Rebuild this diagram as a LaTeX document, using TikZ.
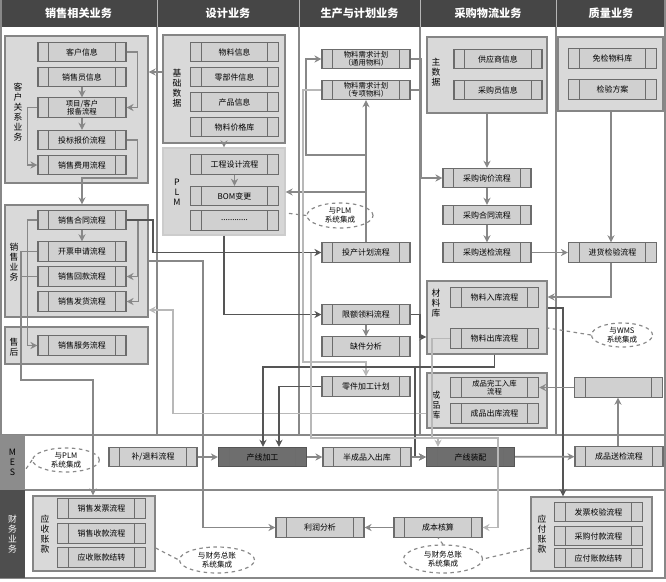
\documentclass[tikz,border=0pt]{standalone}
\usepackage{fontspec}
\setmainfont{Noto Sans CJK SC}
\usepackage{xcolor}
\usepackage{tikz}
\usetikzlibrary{positioning, fit, backgrounds, arrows.meta, calc, shapes.geometric}
\definecolor{hdr}{HTML}{464646}
\definecolor{grpfill}{HTML}{D9D9D9}
\definecolor{grpline}{HTML}{858585}
\definecolor{boxfill}{HTML}{D0D0D0}
\definecolor{boxline}{HTML}{6C6C6C}
\definecolor{darkbox}{HTML}{6E6E6E}
\definecolor{mescol}{HTML}{8C8C8C}
\definecolor{fincol}{HTML}{4E4E4E}
\definecolor{lnmid}{HTML}{888888}
\definecolor{lndark}{HTML}{555555}
\definecolor{lnlight}{HTML}{B8B8B8}

\begin{document}
\begin{tikzpicture}[x=0.03cm, y=-0.03cm,
  proc/.style={draw=boxline, line width=0.9pt, fill=boxfill, minimum width=2.64cm, minimum height=0.58cm, inner sep=0pt, align=center, font=\fontsize{6.8}{7.2}\selectfont,
    path picture={\draw[boxline, line width=0.8pt]
      ([xshift=0.32cm]path picture bounding box.north west) -- ([xshift=0.32cm]path picture bounding box.south west)
      ([xshift=-0.32cm]path picture bounding box.north east) -- ([xshift=-0.32cm]path picture bounding box.south east);}},
  darkproc/.style={proc, fill=darkbox, draw=lndark},
  grp/.style={draw=grpline, line width=1.1pt, fill=grpfill, inner sep=0pt},
  vlab/.style={align=center, font=\fontsize{7.5}{8.5}\selectfont, inner sep=0pt},
  hdrtext/.style={text=white, font=\fontsize{9.5}{10}\selectfont\bfseries},
  callout/.style={ellipse, draw=lnmid, dashed, line width=1pt, fill=white, align=center, inner sep=0pt, font=\fontsize{6.5}{7.4}\selectfont},
  arr/.style={-{Stealth[length=6pt, width=6pt]}, line width=1.5pt, lnmid},
  darr/.style={arr, lndark},
  larr/.style={arr, lnlight},
  ln/.style={line width=1.5pt, lnmid},
  dashln/.style={dashed, line width=1pt, lnmid},
  divider/.style={line width=0.9pt, lnmid}
]
\useasboundingbox (0,0) rectangle (666,581);

% header and lanes
\fill[hdr] (0,0) rectangle (666,27);
\node[hdrtext] (hsale) at (78.5,13.5) {销售相关业务};
\node[hdrtext] (hdes) at (228,13.5) {设计业务};
\node[hdrtext] (hprod) at (359.5,13.5) {生产与计划业务};
\node[hdrtext] (hbuy) at (488,13.5) {采购物流业务};
\node[hdrtext] (hqa) at (611,13.5) {质量业务};
\foreach \cx in {157,299,420,556} {
  \draw[white!60!hdr, line width=0.6pt] (\cx,0) -- (\cx,27);
  \draw[divider] (\cx,27) -- (\cx,435);
}
\draw[divider] (1,0) -- (1,578) (665,0) -- (665,578);
\draw[divider] (0,435) -- (666,435) (0,490) -- (666,490) (0,578) -- (666,578);
\node[fill=mescol, fit={(0,435) (25,490)}, inner sep=0pt] (mescell) {};
\node[vlab] (meslab) at (12.5,462) {M\\E\\S};
\node[fill=fincol, fit={(0,490) (25,578)}, inner sep=0pt] (fincell) {};
\node[vlab, text=white] (finlab) at (12.5,534) {财\\务\\业\\务};

% groups
\node[grp, fit={(5,36) (148,183)}] (crm) {};
\node[grp, fit={(5,205) (148,317)}] (sale) {};
\node[grp, fit={(5,327) (148,364)}] (after) {};
\node[grp, fit={(163,35) (285,143)}] (base) {};
\node[grp, fit={(163,148) (285,235)}, fill=black!16, draw=black!20] (plm) {};
\node[grp, fit={(427,37) (547,113)}] (master) {};
\node[grp, fit={(558,37) (663,111)}] (qa) {};
\node[grp, fit={(427,281) (547,354)}] (cl) {};
\node[grp, fit={(427,373) (547,428)}] (cpk) {};
\node[grp, fit={(33,496) (155,571)}] (ar) {};
\node[grp, fit={(531,497) (652,571)}] (ap) {};

\node[vlab] (crmlab) at (18,112) {客\\户\\关\\系\\业\\务};
\node[vlab] (salelab) at (14,262) {销\\售\\业\\务};
\node[vlab] (afterlab) at (14,347) {售\\后};
\node[vlab] (baselab) at (177,88) {基\\础\\数\\据};
\node[vlab] (plmlab) at (177,192) {P\\L\\M};
\node[vlab] (masterlab) at (436,72) {主\\数\\据};
\node[vlab] (cllab) at (436,303) {材\\料\\库};
\node[vlab] (cpklab) at (436,405) {成\\品\\库};
\node[vlab] (arlab) at (45,534) {应\\收\\账\\款};
\node[vlab] (aplab) at (542,534) {应\\付\\账\\款};

% sales boxes
\node[proc] (kh) at (82,52) {客户信息};
\node[proc] (xsy) at (82,77) {销售员信息};
\node[proc, font=\fontsize{6.3}{6.8}\selectfont] (bb) at (82,107.5) {项目/客户\\报备流程};
\node[proc] (tb) at (82,140) {投标报价流程};
\node[proc] (fy) at (82,165) {销售费用流程};
\node[proc] (ht) at (82,220) {销售合同流程};
\node[proc] (kp) at (82,251.5) {开票申请流程};
\node[proc] (hk) at (82,276.5) {销售回款流程};
\node[proc] (fh) at (82,301.5) {销售发货流程};
\node[proc] (fw) at (82,345.5) {销售服务流程};

% design boxes
\node[proc] (wl) at (234.5,52) {物料信息};
\node[proc] (lbj) at (234.5,77) {零部件信息};
\node[proc] (cp) at (234.5,102) {产品信息};
\node[proc] (jg) at (234.5,127) {物料价格库};
\node[proc] (gc) at (234.5,164.5) {工程设计流程};
\node[proc] (bom) at (234.5,196) {BOM变更};
\node[proc] (etc) at (234.5,220.5) {............};

% production boxes
\node[proc, font=\fontsize{6.3}{6.8}\selectfont] (ty) at (366,59) {物料需求计划\\（通用物料）};
\node[proc, font=\fontsize{6.3}{6.8}\selectfont] (zx) at (366,90) {物料需求计划\\（专项物料）};
\node[proc] (tc) at (366,252.5) {投产计划流程};
\node[proc] (xe) at (366,314.5) {限额领料流程};
\node[proc] (qj) at (366,346.5) {缺件分析};
\node[proc] (lj) at (366,386.5) {零件加工计划};

% purchasing boxes
\node[proc] (gys) at (498,59) {供应商信息};
\node[proc] (cgy) at (498,90) {采购员信息};
\node[proc] (xj) at (487,178) {采购询价流程};
\node[proc] (cght) at (487,215) {采购合同流程};
\node[proc] (sj) at (487,252.5) {采购送检流程};
\node[proc] (rk) at (494.5,297.5) {物料入库流程};
\node[proc] (ck) at (494.5,338.5) {物料出库流程};
\node[proc, font=\fontsize{6.3}{6.8}\selectfont] (wg) at (494.5,387.5) {成品完工入库\\流程};
\node[proc] (cpck) at (494.5,413.5) {成品出库流程};

% quality boxes
\node[proc] (mj) at (612.5,58.5) {免检物料库};
\node[proc] (fa) at (612.5,89.5) {检验方案};
\node[proc] (jh) at (612.5,252.5) {进货检验流程};
\node[proc] (blank) at (618.5,387.5) {};

% MES row
\node[proc] (bt) at (153,457) {补/退料流程};
\node[darkproc] (jgx) at (262.5,457) {产线加工};
\node[proc] (bcp) at (367,457) {半成品入出库};
\node[darkproc] (zp) at (470.5,457) {产线装配};
\node[proc] (cpj) at (619,456.5) {成品送检流程};

% finance row
\node[proc] (fp) at (101.5,508.5) {销售发票流程};
\node[proc] (sk) at (101.5,533.5) {销售收款流程};
\node[proc] (ys) at (101.5,557.5) {应收账款结转};
\node[proc] (lr) at (320,527.5) {利润分析};
\node[proc] (cb) at (438,527.5) {成本核算};
\node[proc] (fpjy) at (598.5,512) {发票校验流程};
\node[proc] (fk) at (598.5,536) {采购付款流程};
\node[proc] (yf) at (598.5,558) {应付账款结转};

% callouts
\node[callout, minimum width=1.98cm, minimum height=0.75cm] (plmc) at (340,215.5) {与PLM\\系统集成};
\node[callout, minimum width=1.83cm, minimum height=0.72cm] (wms) at (622,335) {与WMS\\系统集成};
\node[callout, minimum width=2.0cm, minimum height=0.72cm] (plm2) at (66,460) {与PLM\\系统集成};
\node[callout, minimum width=2.25cm, minimum height=0.78cm] (gl1) at (217,560) {与财务总账\\系统集成};
\node[callout, minimum width=2.37cm, minimum height=0.84cm] (gl2) at (443,559) {与财务总账\\系统集成};

% sales flows
\draw[arr] (xsy) -- (bb);
\draw[arr] (bb) -- (tb);
\draw[arr] (kh.east) -- ++(11,0) |- (bb.east);
\draw[arr] (bb.west) -- ++(-10,0) |- (fy.west);
\draw[arr] (tb.east) -- ++(11,0) |- (82,178) -- (ht.north |- sale.north);
\draw[arr] (base.west |- 0,72) -- (crm.east |- 0,72);
\draw[arr] (ht) -- (kp);
\draw[arr] (ht.east) -- ++(12,0) |- (fh.east);
\draw[arr] (ht.east -| 138,0) |- (hk.east);
\draw[darr] (ht.east) -- (ht.east -| 153,0) |- (tc.west);
\draw[arr] (ht.west) -- ++(-10,0) |- (fw.west);
\draw[ln] (hk.west) -- (hk.west -| 21,0);
\draw[arr] (kp.west) -| (21,380) -| (ar.north -| 93,0);
\draw[arr] (sale.east) -| (lr.west -| 203,0) -- (lr.west);
\draw[larr] (cpk.west |- cpck.west) -| (173,310) -- (sale.east |- 0,310);

% design / planning flows
\draw[arr] (base) -- (plm);
\draw[arr] (gc) -- (bom);
\draw[arr] (tc) -- (zx);
\draw[arr] (tc.north |- 0,192) -- (plm.east |- 0,192);
\draw[arr] (tc.north |- 0,155) -| (ty.west -| 306,0) -- (ty.west);
\draw[arr] (ty.east) -| (xj.west -| 421,0) -- (xj.west);
\draw[ln] (zx.east) -- (zx.east -| 421,0);
\draw[larr] (zx.west) -| (303,362) -| (lj.north);
\draw[darr] (plm.south) |- (xe.west);
\draw[arr] (xe) -- (qj);
\draw[darr] (xe.east) -- (xe.east -| 420,0) |- (cl.west |- 0,337);
\draw[darr] (lj.west) -| (jgx.north -| 279,0);
\draw[darr] (ck.south |- cl.south) -- (ck.south |- 0,367) -| (jgx.north -| 263,0);
\draw[darr] (ck.south |- 0,367) -| (zp.west -| 415,0) -- (zp.west);
\draw[dashln] (plmc.west) -- (plm.east |- 0,213);

% purchasing / quality flows
\draw[arr] (master) -- (xj);
\draw[arr] (xj) -- (cght);
\draw[arr] (cght) -- (sj);
\draw[arr] (sj) -- (jh);
\draw[arr] (qa.south -| 611,0) -- (jh.north -| 611,0);
\draw[arr] (jh.south -| 611,0) |- (cl.east |- 0,297);
\draw[darr] (cl.east |- 0,308) -| (ap.north -| 563,0);
\draw[dashln] (wms.west) -- (cl.east |- 0,328);
\draw[arr] (blank) -- (wg);
\draw[arr] (cpj.north -| 618,0) -- (blank.south -| 618,0);

% MES and finance flows
\draw[arr] (bt) -- (jgx);
\draw[arr] (jgx) -- (bcp);
\draw[arr] (bcp) -- (zp);
\draw[arr] (zp) -- (cpj);
\draw[larr] (tc.west -| 311,0) |- (438,438) -- (zp.north -| 438,0);
\draw[larr] (ck.west) -| (432,438) -| (cb.east -| 498,0) -- (cb.east);
\draw[arr] (cb) -- (lr);
\draw[dashln] (plm2.west) -- (mescell.east |- 0,470);
\draw[dashln] (ar.east |- 0,548) -- (gl1.west);
\draw[dashln] (ap.west |- 0,548) -- (gl2.east);
\draw[dashln] (gl2.north) -- (cb.south);
\end{tikzpicture}
\end{document}
